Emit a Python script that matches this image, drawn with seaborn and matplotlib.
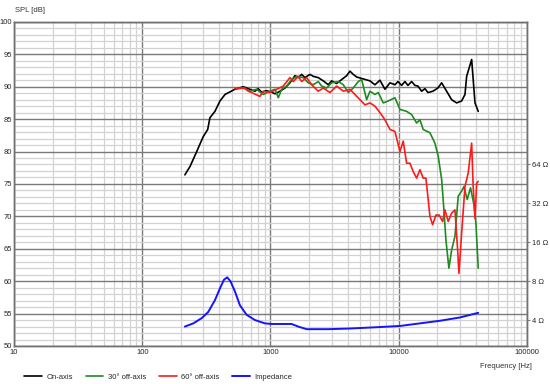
import seaborn as sns
import matplotlib.pyplot as plt
from matplotlib.ticker import FixedLocator, LogLocator, MultipleLocator, NullFormatter, NullLocator

# ---------------------------------------------------------------------------
# measured curves (read off the reference chart)
onaxis_freq = [215, 236, 266, 299, 324, 337, 369, 404, 442, 483, 528, 614, 692, 757, 802,
               859, 923, 1009, 1085, 1186, 1297, 1419, 1552, 1647, 1751, 1857, 2031, 2157,
               2360, 2582, 2825, 3000, 3283, 3591, 3929, 4169, 4424, 4701, 5295, 5970, 6530,
               7145, 7815, 8550, 9350, 9870, 10540, 11190, 11810, 12620, 13390, 14130, 15100,
               16020, 16910, 18490, 20240, 21630, 23660, 25880, 28310, 30970, 32880, 33890,
               37080, 39370, 41730]
onaxis_spl = [76.4, 77.7, 80.0, 82.3, 83.4, 85.2, 86.2, 87.8, 88.8, 89.2, 89.6, 90.0, 89.6, 89.3,
              89.7, 89.1, 89.4, 89.2, 88.9, 89.3, 89.8, 90.6, 91.7, 91.4, 91.9, 91.4, 91.9, 91.6,
              91.4, 90.9, 90.3, 90.9, 90.5, 91.1, 91.7, 92.4, 91.9, 91.5, 91.2, 90.9, 90.3,
              91.0, 89.6, 90.6, 90.3, 90.8, 90.2, 90.8, 90.2, 90.8, 90.2, 90.1, 89.3,
              89.7, 89.1, 89.3, 89.8, 90.6, 89.3, 88.0, 87.5, 87.8, 88.8, 91.6,
              94.2, 87.5, 86.2]

off30_freq = [528, 614, 692, 780, 879, 991, 1085, 1151, 1222, 1337, 1463, 1600, 1802, 1971,
              2157, 2360, 2506, 2742, 3000, 3382, 3700, 4048, 4424, 4842, 5142, 5625, 5970,
              6530, 6932, 7580, 8292, 9350, 10230, 11530, 12620, 13800, 14650, 15530, 17520,
              19170, 20330, 21630, 22530, 23350, 24640, 25880, 27460, 29130, 30970, 32270,
              34230, 36350, 38620, 40020, 41730]
off30_spl = [89.7, 89.8, 89.3, 89.6, 88.8, 89.3, 89.6, 88.3, 89.6, 90.1, 91.1, 91.6, 91.4, 90.6,
             90.3, 90.8, 90.1, 89.8, 90.6, 90.8, 90.3, 89.1, 89.8, 90.8, 91.1, 88.0, 89.3,
             88.8, 89.1, 87.5, 87.8, 88.3, 86.5, 86.2, 85.7, 84.4, 84.9, 83.4, 82.9,
             81.3, 79.3, 75.7, 71.0, 66.4, 62.0, 64.8, 66.9, 73.1, 73.9, 74.6,
             72.6, 74.4, 71.8, 69.0, 62.0]

off60_freq = [528, 633, 671, 713, 828, 879, 991, 1117, 1259, 1419, 1506, 1647, 1751, 1915,
              2095, 2360, 2582, 2911, 3283, 3700, 4169, 4561, 4989, 5457, 5970, 6530, 7145,
              7815, 8550, 9350, 10230, 10850, 11530, 12240, 12980, 13800, 14650, 15530,
              16300, 16990, 17520, 18400, 19520, 20700, 22010, 22950, 24330, 25880, 27460,
              28830, 29510, 30970, 32880, 34860, 37080, 38110, 39370, 40560, 41730]
off60_spl = [89.7, 89.8, 89.3, 89.1, 88.5, 89.3, 89.1, 89.6, 90.1, 91.4, 90.8, 91.6, 90.8, 91.4,
             90.3, 89.3, 89.8, 89.1, 90.1, 89.3, 89.6, 88.8, 88.0, 87.2, 87.5, 87.0, 86.0,
             84.9, 83.4, 83.1, 80.0, 81.6, 78.2, 78.2, 76.9, 75.9, 77.2, 75.9,
             75.9, 72.6, 70.0, 68.7, 70.2, 70.2, 69.2, 71.0, 69.2, 70.5, 71.0,
             64.8, 61.2, 67.4, 74.6, 76.7, 81.3, 74.6, 69.7, 75.1, 75.4]

imp_freq = [215, 250, 291, 327, 369, 404, 434, 460, 489, 529, 578, 652, 757, 906, 1021,
            1462, 1648, 1915, 2824, 4169, 6730, 10230, 20990, 30050, 41700]
imp_ohm = [3.56, 3.77, 4.14, 4.62, 5.70, 7.05, 8.21, 8.57, 7.94, 6.64, 5.20, 4.39, 4.00, 3.77,
           3.73, 3.73, 3.56, 3.40, 3.40, 3.44, 3.52, 3.60, 3.95, 4.19, 4.55]

x_ticks = [10, 100, 1000, 10000, 100000]
y_ticks = list(range(50, 101, 5))
imp_ticks = [4, 8, 16, 32, 64]

# ---------------------------------------------------------------------------
sns.set_style("white")
plt.rcParams['font.family'] = ['Liberation Sans', 'DejaVu Sans']

fig, ax = plt.subplots(figsize=(5.5, 3.84), dpi=100)
fig.subplots_adjust(left=0.0255, right=0.958, bottom=0.099, top=0.943)

# spl curves
sns.lineplot(x=onaxis_freq, y=onaxis_spl, ax=ax, color="black", lw=1.2, label="On-axis", legend=False)
sns.lineplot(x=off30_freq, y=off30_spl, ax=ax, color="#1f8a1f", lw=1.2, label="30° off-axis", legend=False)
sns.lineplot(x=off60_freq, y=off60_spl, ax=ax, color="#ff1a1a", lw=1.2, label="60° off-axis", legend=False)

ax.set_xscale("log")
ax.set_xlim(10, 100000)
ax.set_ylim(50, 100)
ax.xaxis.set_major_locator(FixedLocator(x_ticks))
ax.set_xticklabels([str(t) for t in x_ticks])
ax.xaxis.set_minor_locator(LogLocator(base=10, subs=range(2, 10)))
ax.xaxis.set_minor_formatter(NullFormatter())
ax.set_yticks(y_ticks)
ax.set_yticklabels([str(t) for t in y_ticks])
ax.yaxis.set_minor_locator(MultipleLocator(1))
ax.grid(which="major", color="#7a7a7a", lw=1.0)
ax.grid(which="minor", color="#d2d2d2", lw=0.9)
ax.set_axisbelow(True)
ax.tick_params(which="both", length=0, labelsize=5.5, pad=2)
ax.tick_params(axis="y", pad=1.5)
ax.set_xlabel("")
ax.set_ylabel("")
for s in ax.spines.values():
    s.set_color("#707070")
    s.set_linewidth(1.0)

# impedance on a log2 scale at the right
ax2 = ax.twinx()
sns.lineplot(x=imp_freq, y=imp_ohm, ax=ax2, color="#1414ff", lw=1.4, label="Impedance", legend=False)
ax2.set_yscale("log", base=2)
ax2.set_ylim(4 * 2 ** (-4 / 6), 4 * 2 ** (46 / 6))
ax2.set_yticks(imp_ticks)
ax2.set_yticklabels([f"{t} Ω" for t in imp_ticks])
ax2.yaxis.set_minor_locator(NullLocator())
ax2.tick_params(axis="y", length=2.5, width=0.8, color="#808080", labelsize=5.5, pad=1.5)
ax2.set_ylabel("")
ax2.grid(False)
for s in ax2.spines.values():
    s.set_color("#707070")
    s.set_linewidth(1.0)

fig.text(15 / 550, 1 - 10 / 384, "SPL [dB]", fontsize=5.5, ha="left", va="center", color="#333333")
fig.text(532 / 550, 1 - 367 / 384, "Frequency [Hz]", fontsize=5.5, ha="right", va="center", color="#333333")

handles = ax.get_lines() + ax2.get_lines()
labels = [h.get_label() for h in handles]
fig.legend(handles, labels, loc="center left", bbox_to_anchor=(24 / 550, 1 - 377 / 384), ncol=4,
           frameon=False, fontsize=5.5, handlelength=2.3, handletextpad=0.6, columnspacing=1.7,
           borderpad=0, borderaxespad=0)

fig.savefig("out.png", dpi=100)
